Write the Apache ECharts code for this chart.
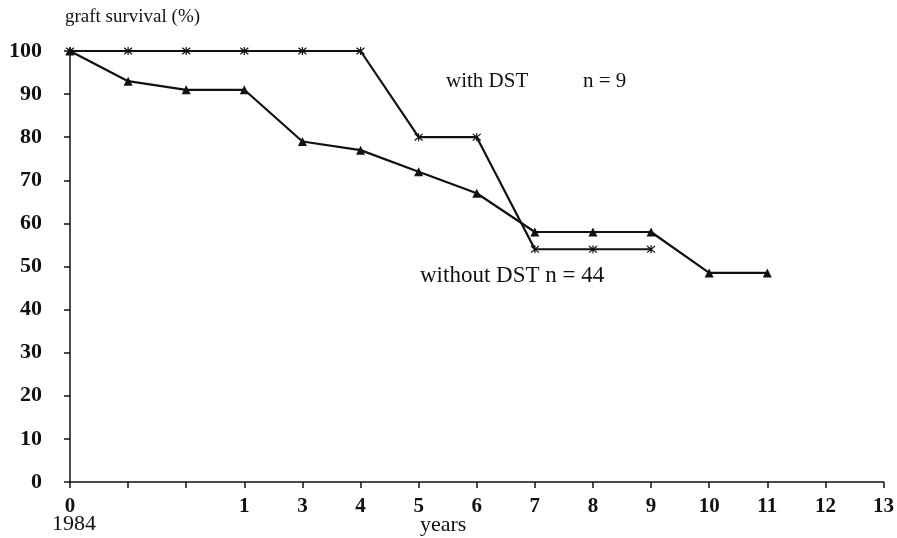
<!DOCTYPE html>
<html>
<head>
<meta charset="utf-8">
<script src="https://cdn.jsdelivr.net/npm/echarts@6/dist/echarts.min.js"></script>
<style>
  html, body { margin: 0; padding: 0; background: #fff; }
  #chart { width: 897px; height: 538px; }
</style>
</head>
<body>
<div id="chart"></div>
<script>
// x positions: evenly spaced ticks, first three belong to year 0..1
const xLabels = ['0', '', '', '1', '3', '4', '5', '6', '7', '8', '9', '10', '11', '12', '13'];
// graft survival (%) per tick
const withDST = [100, 100, 100, 100, 100, 100, 80, 80, 54, 54, 54];
const withoutDST = [100, 93, 91, 91, 79, 77, 72, 67, 58, 58, 58, 48.5, 48.5];
const yTicks = {min: 0, max: 100, step: 10};

const serif = "'Liberation Serif', 'Times New Roman', serif";
const ink = '#111';

// asterisk marker (stroked)
const asterisk = 'path://M0,0L10,10M10,0L0,10M5,-1L5,11';

const chart = echarts.init(document.getElementById('chart'));

const option = {
	animation: false,
	backgroundColor: '#fff',
	grid: {left: 70, right: 9, top: 51, bottom: 56},
	xAxis: {
		type: 'category',
		boundaryGap: false,
		data: xLabels.map((l, i) => String(i)),
		axisLine: {lineStyle: {color: ink, width: 1.5}},
		axisTick: {show: true, interval: 0, length: 6, lineStyle: {color: ink, width: 1.5}},
		axisLabel: {
			interval: 0,
			margin: 14,
			color: ink,
			fontFamily: serif,
			fontWeight: 'bold',
			fontSize: 21,
			formatter: (v, i) => xLabels[i]
		},
		splitLine: {show: false}
	},
	yAxis: {
		type: 'value',
		min: yTicks.min,
		max: yTicks.max,
		interval: yTicks.step,
		axisLine: {show: true, lineStyle: {color: ink, width: 1.5}},
		axisTick: {show: true, length: 6, lineStyle: {color: ink, width: 1.5}},
		axisLabel: {
			margin: 28,
			color: ink,
			fontFamily: serif,
			fontWeight: 'bold',
			fontSize: 22
		},
		splitLine: {show: false}
	},
	graphic: [
		{type: 'text', left: 65, top: 8, style: {text: 'graft survival (%)', fontFamily: serif, fontSize: 19, fill: ink}},
		{type: 'text', left: 446, top: 71, style: {text: 'with DST', fontFamily: serif, fontSize: 21, fill: ink}},
		{type: 'text', left: 583, top: 71, style: {text: 'n = 9', fontFamily: serif, fontSize: 21, fill: ink}},
		{type: 'text', left: 420, top: 264, style: {text: 'without DST n = 44', fontFamily: serif, fontSize: 23, fill: ink}},
		{type: 'text', left: 52, top: 513, style: {text: '1984', fontFamily: serif, fontSize: 22, fill: ink}},
		{type: 'text', left: 420, top: 514, style: {text: 'years', fontFamily: serif, fontSize: 22, fill: ink}}
	],
	series: [
		{
			name: 'with DST',
			type: 'line',
			data: withDST,
			symbol: asterisk,
			symbolSize: 8,
			itemStyle: {color: ink, borderColor: ink, borderWidth: 1.2},
			lineStyle: {color: ink, width: 2.2},
			z: 3
		},
		{
			name: 'without DST',
			type: 'line',
			data: withoutDST,
			symbol: 'triangle',
			symbolSize: 9,
			itemStyle: {color: ink},
			lineStyle: {color: ink, width: 2.2},
			z: 2
		}
	]
};

chart.setOption(option);
</script>
</body>
</html>
